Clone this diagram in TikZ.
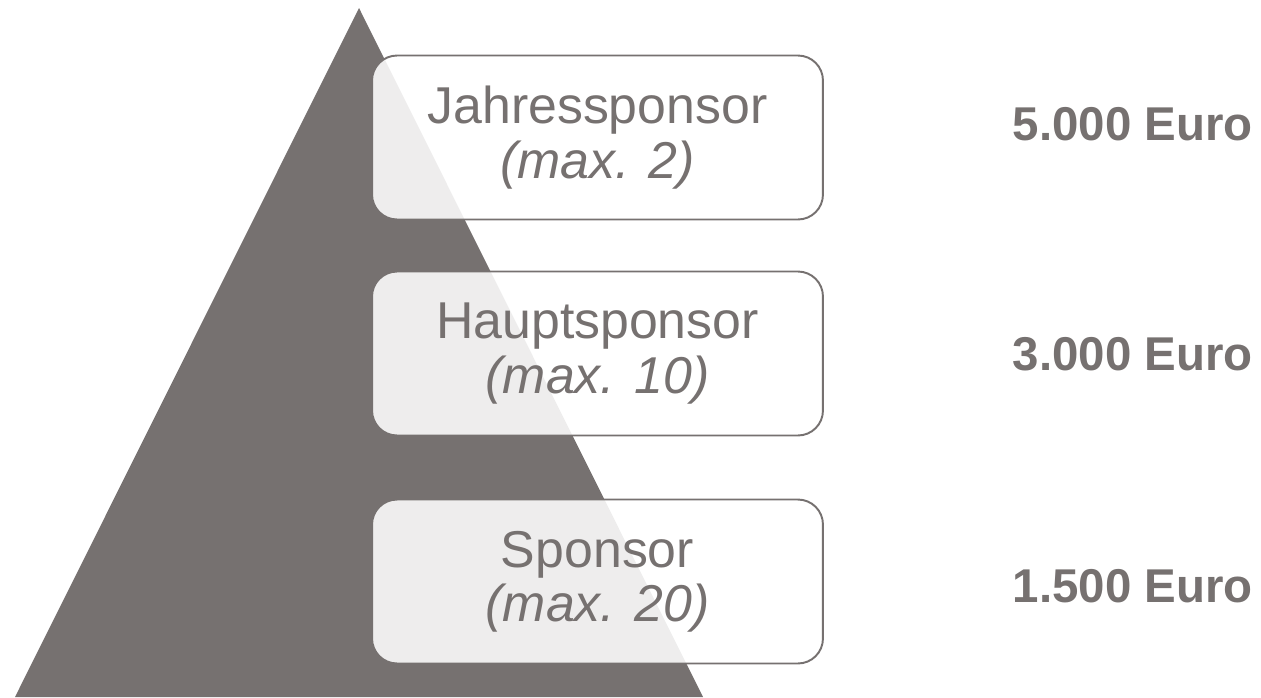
\documentclass[tikz,border=0pt]{standalone}
\usepackage{fontspec}
\setmainfont{Liberation Sans}
\usepackage{xcolor}
\usepackage{tikz}
\usetikzlibrary{positioning, calc}
\definecolor{pyrgray}{HTML}{767170}

\begin{document}
\begin{tikzpicture}[x=0.02cm,y=-0.02cm,
    tierbox/.style={draw=pyrgray,line width=1.1pt,rounded corners=0.5cm,fill=white,fill opacity=0.88,text opacity=1,
      minimum width=9.02cm,minimum height=3.28cm,align=center,text=pyrgray,font=\fontsize{29.5pt}{31pt}\selectfont},
    pricelabel/.style={anchor=base east,text=pyrgray,inner sep=0pt,font=\fontsize{27pt}{30pt}\selectfont\bfseries}]
        \useasboundingbox (0,0) rectangle (1261,697);
        \fill[pyrgray] (359,8) -- (703,697) -- (15,697) -- cycle;

        \node[tierbox] (jahr) at (597.5,137.5) {Jahressponsor\\\textit{(max. 2)}};
        \node[tierbox] (haupt) at (597.5,353.5) {Hauptsponsor\\\textit{(max. 10)}};
        \node[tierbox] (spons) at (597.5,581.5) {Sponsor\\\textit{(max. 20)}};

        \node[pricelabel] (pjahr) at (1253,140) {5.000 Euro};
        \node[pricelabel] (phaupt) at (1253,370) {3.000 Euro};
        \node[pricelabel] (pspons) at (1253,602) {1.500 Euro};
      \end{tikzpicture}
\end{document}
